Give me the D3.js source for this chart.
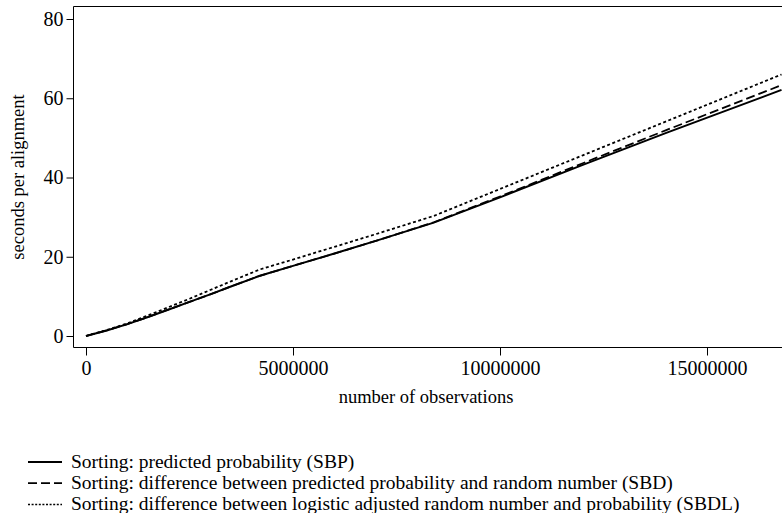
<!DOCTYPE html>
<html>
<head>
<meta charset="utf-8">
<script src="https://cdn.jsdelivr.net/npm/d3@7"></script>
<style>
  body { margin: 0; background: #fff; }
  svg { display: block; font-family: "Liberation Serif", "Times New Roman", serif; }
</style>
</head>
<body>
<svg></svg>
<script>
// Timing of three sorting methods vs number of observations

// x values: number of observations
const observations = [0, 500000, 1000000, 1500000, 2000000, 2500000, 3000000, 3500000,
  4200000, 5000000, 6000000, 7000000, 8400000, 10000000, 12000000, 14000000, 16800000];

// seconds per alignment
const sbp  = [0, 1.4, 3.0, 4.8, 6.7, 8.6, 10.5, 12.5, 15.2, 17.7, 20.8, 24.0, 28.6, 35.0, 43.2, 51.2, 62.1];
const sbd  = [0, 1.4, 3.0, 4.8, 6.7, 8.6, 10.5, 12.5, 15.2, 17.7, 20.8, 24.0, 28.7, 35.2, 43.6, 51.9, 63.3];
const sbdl = [0, 1.5, 3.2, 5.2, 7.3, 9.4, 11.6, 13.8, 16.8, 19.3, 22.5, 25.7, 30.3, 37.1, 45.6, 54.1, 66.0];

const seriesNames = [
  "Sorting: predicted probability (SBP)",
  "Sorting: difference between predicted probability and random number (SBD)",
  "Sorting: difference between logistic adjusted random number and probability (SBDL)"
];
const xTicks = [0, 5000000, 10000000, 15000000];
const yTicks = [0, 20, 40, 60, 80];

const width = 782;
const height = 513;

const svg = d3.select("svg").attr("width", width).attr("height", height);

// Plot area (right edge runs off the picture)
const plotLeft = 73.5, plotTop = 6.5, plotBottom = 347.5;

const x = d3.scaleLinear().domain([0, 15000000]).range([86, 707]);
const y = d3.scaleLinear().domain([0, 80]).range([336, 19]);

// ---- Frame ----
svg.append("path")
  .attr("d", `M${width + 2},${plotTop}H${plotLeft}V${plotBottom}H${width + 2}`)
  .attr("fill", "none")
  .attr("stroke", "#000")
  .attr("stroke-width", 1);

// ---- Axes ----
const yAxis = svg.append("g")
  .attr("transform", `translate(${plotLeft},0)`)
  .call(d3.axisLeft(y).tickValues(yTicks).tickSize(7).tickPadding(3));

const xAxis = svg.append("g")
  .attr("transform", `translate(0,${plotBottom})`)
  .call(d3.axisBottom(x).tickValues(xTicks).tickSize(8).tickPadding(5).tickFormat(d3.format("d")));

[xAxis, yAxis].forEach((g) => {
  g.select(".domain").remove();
  g.selectAll("line").attr("stroke", "#000");
  g.selectAll("text")
    .attr("fill", "#000")
    .style("font-family", "Liberation Serif")
    .style("font-size", "20px");
});

// ---- Axis titles ----
svg.append("text")
  .attr("x", 426)
  .attr("y", 403)
  .attr("text-anchor", "middle")
  .style("font-size", "18.5px")
  .text("number of observations");

svg.append("text")
  .attr("transform", "translate(24,177) rotate(-90)")
  .attr("text-anchor", "middle")
  .style("font-size", "18.5px")
  .text("seconds per alignment");

// ---- Lines ----
const dashes = [null, "9,4", "3,2.5"];
const seriesValues = [sbp, sbd, sbdl];

const line = d3.line()
  .x((d) => x(d[0]))
  .y((d) => y(d[1]));

svg.append("clipPath").attr("id", "clip")
  .append("rect")
  .attr("x", plotLeft).attr("y", plotTop)
  .attr("width", width - plotLeft).attr("height", plotBottom - plotTop);

svg.append("g")
  .attr("clip-path", "url(#clip)")
  .selectAll("path")
  .data(seriesValues)
  .join("path")
  .attr("d", (vals) => line(observations.map((o, i) => [o, vals[i]])))
  .attr("fill", "none")
  .attr("stroke", "#000")
  .attr("stroke-width", (d, i) => (i === 0 ? 2 : 1.8))
  .attr("stroke-dasharray", (d, i) => dashes[i]);

// ---- Legend ----
const legend = svg.append("g")
  .selectAll("g")
  .data(seriesNames)
  .join("g")
  .attr("transform", (d, i) => `translate(0,${462 + i * 21.2})`);

legend.append("line")
  .attr("x1", 28).attr("x2", 62)
  .attr("stroke", "#000")
  .attr("stroke-width", (d, i) => (i === 2 ? 1.5 : 1.8))
  .attr("stroke-dasharray", (d, i) => [null, "9,4", "2,1.6"][i]);

legend.append("text")
  .attr("x", 71)
  .attr("dy", "0.3em")
  .style("font-size", "19.5px")
  .text((d) => d);
</script>
</body>
</html>
